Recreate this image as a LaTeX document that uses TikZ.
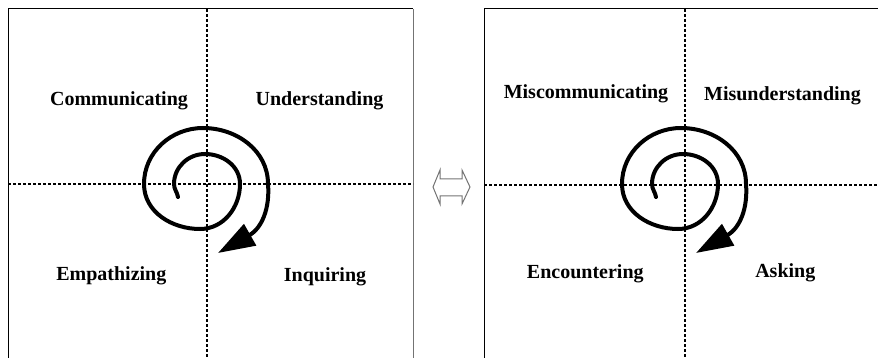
\documentclass[tikz,border=0pt]{standalone}
\usepackage{fontspec}
\setmainfont{Liberation Serif}
\usetikzlibrary{arrows.meta}
\tikzset{
  boxline/.style={line width=1pt},
  axisline/.style={line width=1.2pt, dash pattern=on 3pt off 2pt},
  lbl/.style={font=\fontsize{20}{24}\selectfont\bfseries, anchor=base, inner sep=0pt},
  dblarrow/.style={draw=black!55, line width=1pt},
  spiralpic/.pic={
    \draw[line width=4pt, line cap=round, -{Triangle[length=37pt,width=24pt]}]
      (-29,-13) to[out=100,in=-90] (-33,0) to[out=90,in=180] (-2,30)
      to[out=0,in=90] (33,0) to[out=-90,in=0] (-7,-45)
      to[out=180,in=-90] (-63,0) to[out=90,in=180] (-4,56)
      to[out=0,in=90] (61,0) .. controls (63,-24) and (55,-44) .. (11,-69);
  }
}
\begin{document}
\begin{tikzpicture}[x=1pt,y=1pt]
\useasboundingbox (0,-358) rectangle (878,0);
\clip (0,-358) rectangle (878,0);
% left panel
\draw[boxline] (8,-370) -- (8,-9) -- (413,-9);
\draw[boxline, black!55] (413,-9) -- (413,-370);
\draw[axisline] (8,-184) -- (413,-184);
\draw[axisline] (207,-9) -- (207,-360);
% right panel
\draw[boxline] (484,-370) -- (484,-9) -- (890,-9);
\draw[axisline] (484,-185) -- (880,-185);
\draw[axisline] (685,-9) -- (685,-360);
% spirals
\pic (sl) at (207,-184) {spiralpic};
\pic (sr) at (685,-184) {spiralpic};
% double arrow
\draw[dblarrow] (433,-187) -- (440,-170) -- (440,-179) -- (462,-179) -- (462,-170)
  -- (470,-187) -- (462,-204) -- (462,-196) -- (440,-196) -- (440,-204) -- cycle;
% labels
\node[lbl] (comm) at (119,-106) {Communicating};
\node[lbl] (und) at (319.5,-106) {Understanding};
\node[lbl] (emp) at (111.3,-280) {Empathizing};
\node[lbl] (inq) at (325,-281.5) {Inquiring};
\node[lbl] (misc) at (586,-99) {Miscommunicating};
\node[lbl] (misu) at (782.5,-100.5) {Misunderstanding};
\node[lbl] (enc) at (585.3,-278) {Encountering};
\node[lbl] (ask) at (785.3,-277.5) {Asking};
\end{tikzpicture}
\end{document}
